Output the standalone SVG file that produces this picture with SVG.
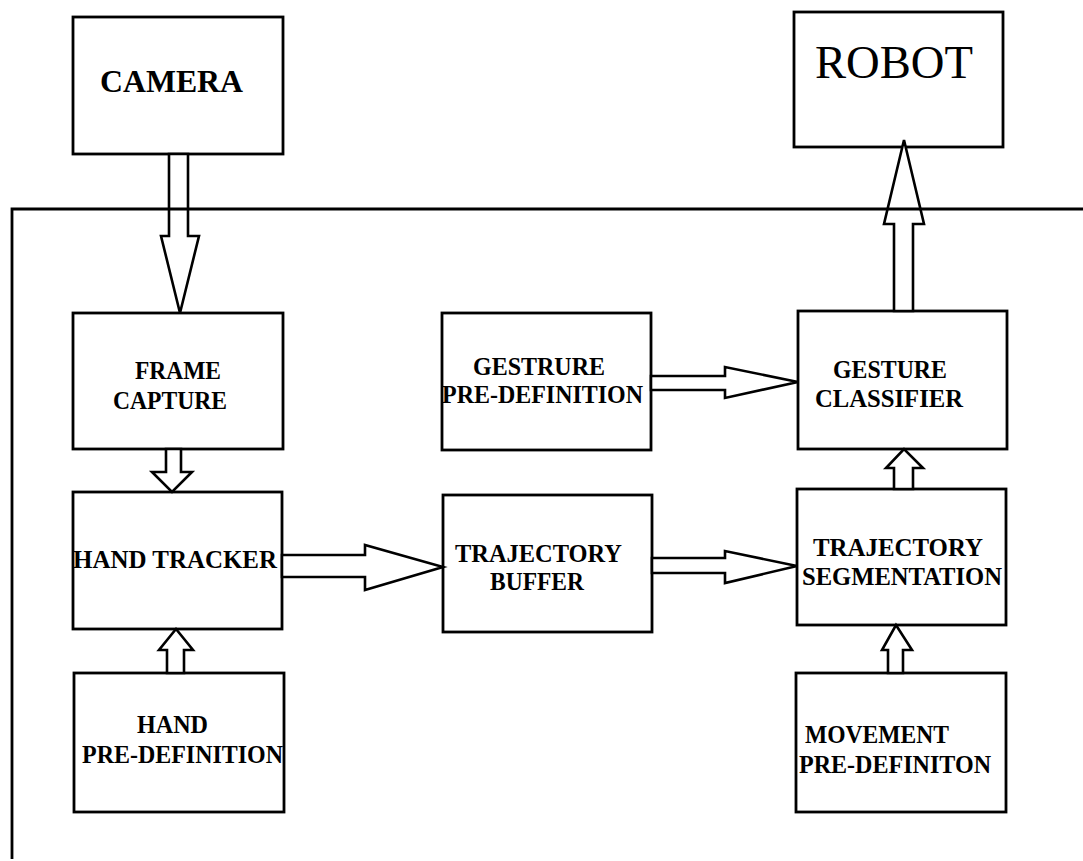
<svg xmlns="http://www.w3.org/2000/svg" width="1083" height="861" viewBox="0 0 1083 861">
<style>
.box{fill:#fff;stroke:#000;stroke-width:2.8}
.arr{fill:#fff;stroke:#000;stroke-width:2.6;stroke-linejoin:miter}
.frame{fill:none;stroke:#000;stroke-width:2.8}
.t{font-family:"Liberation Serif","Times New Roman",serif;font-weight:bold;font-size:26px;fill:#000}
.big{font-family:"Liberation Serif","Times New Roman",serif;font-size:47px;fill:#000}
</style>
<rect width="1083" height="861" fill="#fff"/>
<g id="camera">
<rect class="box" x="73" y="17" width="210" height="137"/>
<text class="t" style="font-size:31px" x="100" y="92" textLength="143" lengthAdjust="spacingAndGlyphs">CAMERA</text>
</g>
<g id="robot">
<rect class="box" x="794" y="12" width="209" height="135"/>
<text class="big" x="815" y="78" textLength="158" lengthAdjust="spacingAndGlyphs">ROBOT</text>
</g>
<g id="frame-capture">
<rect class="box" x="73" y="313" width="210" height="136"/>
<text class="t" x="135" y="379" textLength="86" lengthAdjust="spacingAndGlyphs">FRAME</text>
<text class="t" x="113" y="409" textLength="114" lengthAdjust="spacingAndGlyphs">CAPTURE</text>
</g>
<g id="gestrure-pre-definition">
<rect class="box" x="442" y="313" width="209" height="137"/>
<text class="t" x="473" y="375" textLength="132" lengthAdjust="spacingAndGlyphs">GESTRURE</text>
<text class="t" x="442" y="403" textLength="201" lengthAdjust="spacingAndGlyphs">PRE-DEFINITION</text>
</g>
<g id="gesture-classifier">
<rect class="box" x="798" y="311" width="209" height="138"/>
<text class="t" x="833" y="378" textLength="114" lengthAdjust="spacingAndGlyphs">GESTURE</text>
<text class="t" x="815" y="407" textLength="148" lengthAdjust="spacingAndGlyphs">CLASSIFIER</text>
</g>
<g id="hand-tracker">
<rect class="box" x="73" y="492" width="209" height="137"/>
<text class="t" x="73" y="568" textLength="204" lengthAdjust="spacingAndGlyphs">HAND TRACKER</text>
</g>
<g id="trajectory-buffer">
<rect class="box" x="443" y="495" width="209" height="137"/>
<text class="t" x="455" y="562" textLength="167" lengthAdjust="spacingAndGlyphs">TRAJECTORY</text>
<text class="t" x="490" y="590" textLength="94" lengthAdjust="spacingAndGlyphs">BUFFER</text>
</g>
<g id="trajectory-segmentation">
<rect class="box" x="797" y="489" width="209" height="136"/>
<text class="t" x="813" y="556" textLength="170" lengthAdjust="spacingAndGlyphs">TRAJECTORY</text>
<text class="t" x="802" y="585" textLength="200" lengthAdjust="spacingAndGlyphs">SEGMENTATION</text>
</g>
<g id="hand-pre-definition">
<rect class="box" x="74" y="673" width="210" height="139"/>
<text class="t" x="137" y="733" textLength="71" lengthAdjust="spacingAndGlyphs">HAND</text>
<text class="t" x="82" y="763" textLength="201" lengthAdjust="spacingAndGlyphs">PRE-DEFINITION</text>
</g>
<g id="movement-pre-definiton">
<rect class="box" x="796" y="673" width="210" height="139"/>
<text class="t" x="805" y="743" textLength="144" lengthAdjust="spacingAndGlyphs">MOVEMENT</text>
<text class="t" x="799" y="773" textLength="192" lengthAdjust="spacingAndGlyphs">PRE-DEFINITON</text>
</g>
<g id="connectors">
<polygon class="arr" points="169,154 188,154 188,236 199,236 180,313 161,236 169,236"/>
<polygon class="arr" points="166,449 181,449 181,472 192,472 172,492 152,472 166,472"/>
<polygon class="arr" points="167,673 184,673 184,650 193,650 176,629 159,650 167,650"/>
<polygon class="arr" points="282,555 365,555 365,545 443,567 365,590 365,577 282,577"/>
<polygon class="arr" points="652,558 725,558 725,551 797,566 725,583 725,573 652,573"/>
<polygon class="arr" points="651,376 725,376 725,367 798,382 725,398 725,390 651,390"/>
<polygon class="arr" points="894,489 913,489 913,468 923,468 904,449 886,468 894,468"/>
<polygon class="arr" points="888,673 903,673 903,650 912,650 896,625 882,650 888,650"/>
<polygon class="arr" points="894,311 913,311 913,224 924,224 904,140 884,224 894,224"/>
</g>
<polyline id="system-frame" class="frame" points="12,859 12,209 1083,209"/>
</svg>
